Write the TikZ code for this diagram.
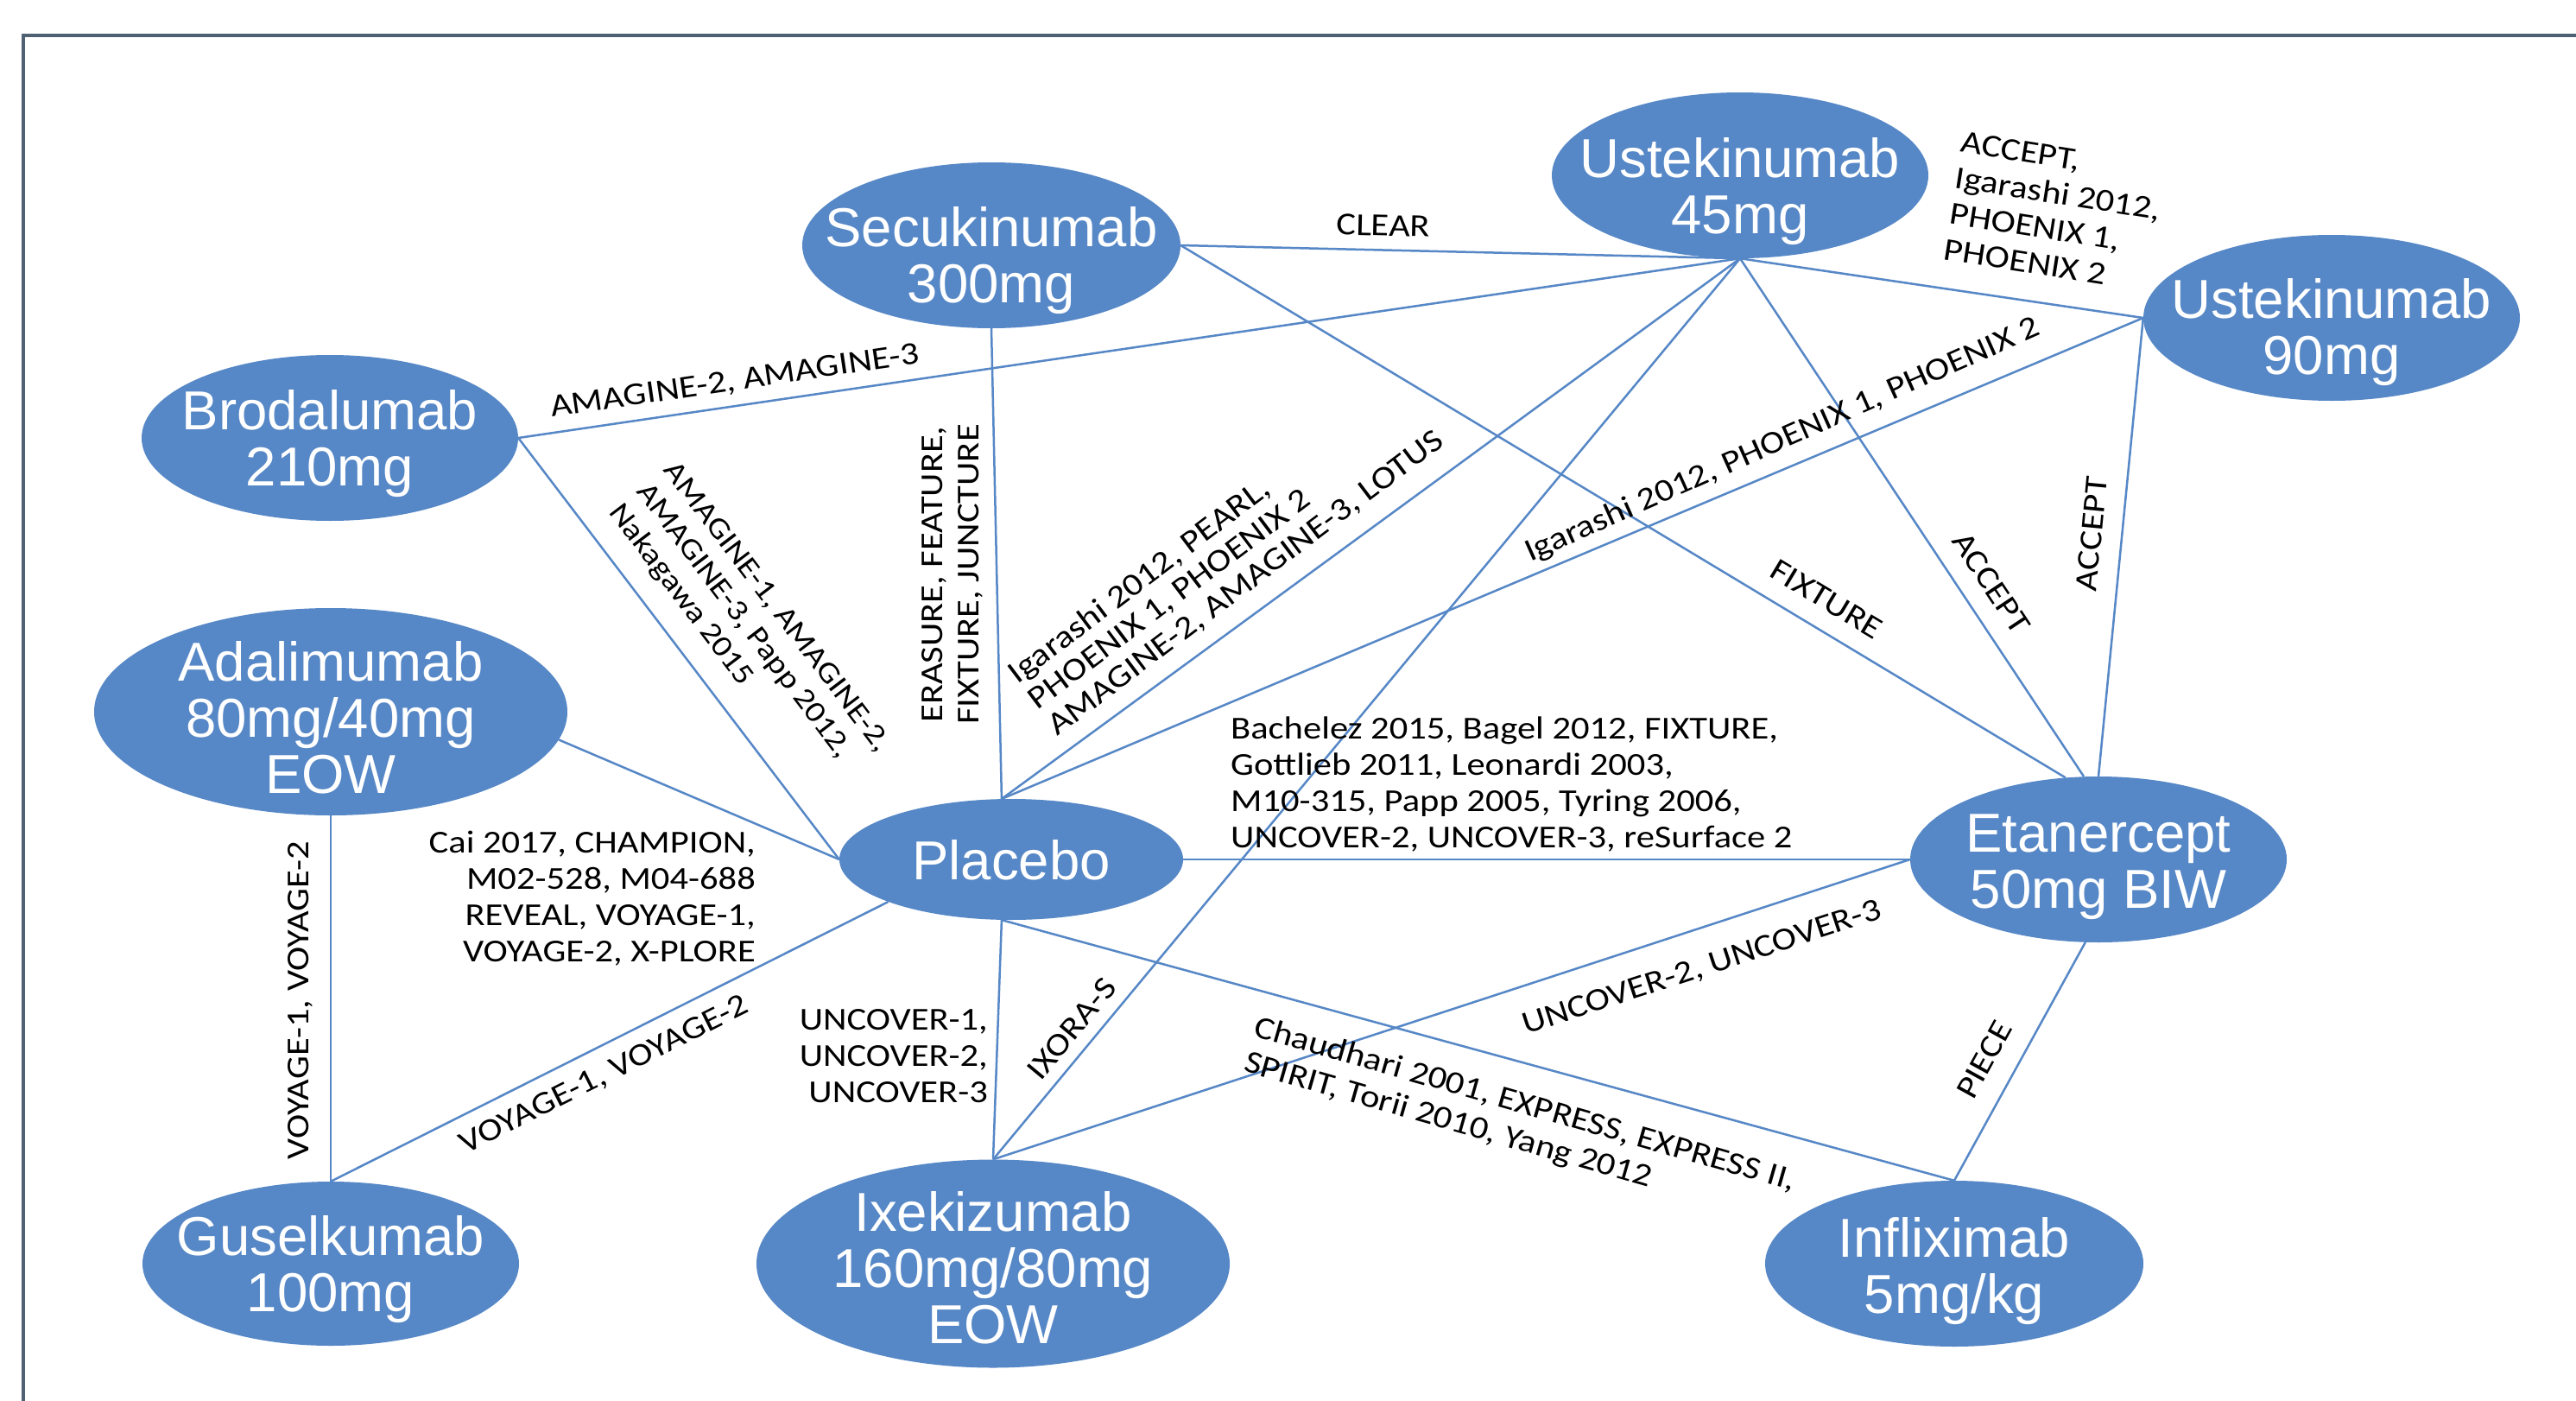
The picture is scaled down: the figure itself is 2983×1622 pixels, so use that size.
\documentclass[tikz,border=0pt]{standalone}
\usepackage{fontspec}
\usetikzlibrary{shapes.geometric}
\newfontfamily\nodefam{Liberation Sans}
\newfontfamily\labfam[FakeStretch=1.15]{Carlito}
\definecolor{nblue}{RGB}{86,135,198}
\definecolor{framecol}{RGB}{80,96,115}
\begin{document}
\begin{tikzpicture}[x=1pt,y=-1pt,
  ell/.style={ellipse,fill=nblue,draw=none,inner sep=0pt},
  ntext/.style={text=white,align=center,inner sep=0pt,font=\nodefam\fontsize{63.5}{65}\selectfont},
  lab/.style={inner sep=0pt,text=black,font=\labfam\fontsize{37}{42}\selectfont},
  conn/.style={draw=nblue,line width=2.5pt}]
\useasboundingbox[fill=white] (0,0) rectangle (2983,1622);
\draw[framecol,line width=4pt] (27,1622) -- (27,41) -- (2983,41);

% ellipses
\node[ell,minimum width=436pt,minimum height=192pt] (u45)  at (2015,203) {};
\node[ell,minimum width=438pt,minimum height=192pt] (secu) at (1148,284) {};
\node[ell,minimum width=436pt,minimum height=192pt] (u90)  at (2700,368) {};
\node[ell,minimum width=436pt,minimum height=192pt] (brod) at (382,507) {};
\node[ell,minimum width=548pt,minimum height=240pt] (adal) at (383,824) {};
\node[ell,minimum width=398pt,minimum height=140pt] (plac) at (1171,995) {};
\node[ell,minimum width=436pt,minimum height=192pt] (eta)  at (2430,995) {};
\node[ell,minimum width=436pt,minimum height=190pt] (gus)  at (383,1463) {};
\node[ell,minimum width=548pt,minimum height=241pt] (ixe)  at (1150,1463) {};
\node[ell,minimum width=438pt,minimum height=192pt] (infl) at (2263,1463) {};

% node texts
\node[ntext] (u45t)  at (2015,222)  {Ustekinumab\\45mg};
\node[ntext] (secut) at (1148,302)  {Secukinumab\\300mg};
\node[ntext] (u90t)  at (2700,385)  {Ustekinumab\\90mg};
\node[ntext] (brodt) at (382,514)   {Brodalumab\\210mg};
\node[ntext] (adalt) at (383,831)   {Adalimumab\\80mg/40mg\\EOW};
\node[ntext] (plact) at (1171,996)  {Placebo};
\node[ntext] (etat)  at (2430,1004) {Etanercept\\50mg BIW};
\node[ntext] (gust)  at (383,1470)  {Guselkumab\\100mg};
\node[ntext] (ixet)  at (1150,1468) {Ixekizumab\\160mg/80mg\\EOW};
\node[ntext] (inflt) at (2263,1472) {Infliximab\\5mg/kg};

% connectors
\draw[conn] (secu.east) -- (u45.south);
\draw[conn] (brod.east) -- (u45.south);
\draw[conn] (secu.east) -- (eta.112);
\draw[conn] (u45.south) -- (eta.100);
\draw[conn] (u90.west) -- (eta.north);
\draw[conn] (u45.south) -- (u90.west);
\draw[conn] (u90.west) -- (plac.99);
\draw[conn] (u45.south) -- (plac.99);
\draw[conn] (secu.south) -- (plac.99);
\draw[conn] (brod.east) -- (plac.west);
\draw[conn] (adal.353) -- (plac.west);
\draw[conn] (adal.south) -- (gus.north);
\draw[conn] (gus.north) -- (plac.199);
\draw[conn] (plac.east) -- (eta.west);
\draw[conn] (plac.261) -- (ixe.north);
\draw[conn] (plac.261) -- (infl.north);
\draw[conn] (u45.south) -- (ixe.north);
\draw[conn] (ixe.north) -- (eta.west);
\draw[conn] (eta.261) -- (infl.north);

% labels
\node[lab,rotate=-1.3] (l1) at (1602,261) {CLEAR};
\node[lab,rotate=8.4] (l2) at (851,442) {AMAGINE-2, AMAGINE-3};
\node[lab,rotate=-31] (l3) at (2115,694) {FIXTURE};
\node[lab,rotate=-56.4] (l4) at (2306,675) {ACCEPT};
\node[lab,rotate=84.6] (l5) at (2422,618) {ACCEPT};
\node[lab,rotate=-9,align=left] (l6) at (2380,245) {ACCEPT,\\Igarashi 2012,\\PHOENIX 1,\\PHOENIX 2};
\node[lab,rotate=24] (l7) at (2064,510) {Igarashi 2012, PHOENIX 1, PHOENIX 2};
\node[lab,rotate=37,align=left,font=\labfam\fontsize{37}{38}\selectfont] (l8) at (1420,645) {Igarashi 2012, PEARL,\\PHOENIX 1, PHOENIX 2\\AMAGINE-2, AMAGINE-3, LOTUS};
\node[lab,rotate=90,align=center] (l9) at (1103,665) {ERASURE, FEATURE,\\FIXTURE, JUNCTURE};
\node[lab,rotate=-52.8,align=left,font=\labfam\fontsize{34.5}{40}\selectfont] (l10) at (867,728) {AMAGINE-1, AMAGINE-2,\\AMAGINE-3, Papp 2012,\\Nakagawa 2015};
\node[lab,align=right,anchor=east] (l11) at (875,1040) {Cai 2017, CHAMPION,\\M02-528, M04-688\\REVEAL, VOYAGE-1,\\VOYAGE-2, X-PLORE};
\node[lab,rotate=90] (l12) at (348,1158) {VOYAGE-1, VOYAGE-2};
\node[lab,rotate=26.6] (l13) at (700,1245) {VOYAGE-1, VOYAGE-2};
\node[lab,align=left,anchor=west] (l14) at (1425,908) {Bachelez 2015, Bagel 2012, FIXTURE,\\Gottlieb 2011, Leonardi 2003,\\M10-315, Papp 2005, Tyring 2006,\\UNCOVER-2, UNCOVER-3, reSurface 2};
\node[lab,align=right,anchor=east] (l15) at (1144,1223) {UNCOVER-1,\\UNCOVER-2,\\UNCOVER-3};
\node[lab,rotate=50.3] (l16) at (1241,1191) {IXORA-S};
\node[lab,rotate=-16,align=left] (l17) at (1760,1300) {Chaudhari 2001, EXPRESS, EXPRESS II,\\SPIRIT, Torii 2010, Yang 2012};
\node[lab,rotate=18.1] (l18) at (1971,1121) {UNCOVER-2, UNCOVER-3};
\node[lab,rotate=61.2] (l19) at (2298,1227) {PIECE};
\end{tikzpicture}
\end{document}
